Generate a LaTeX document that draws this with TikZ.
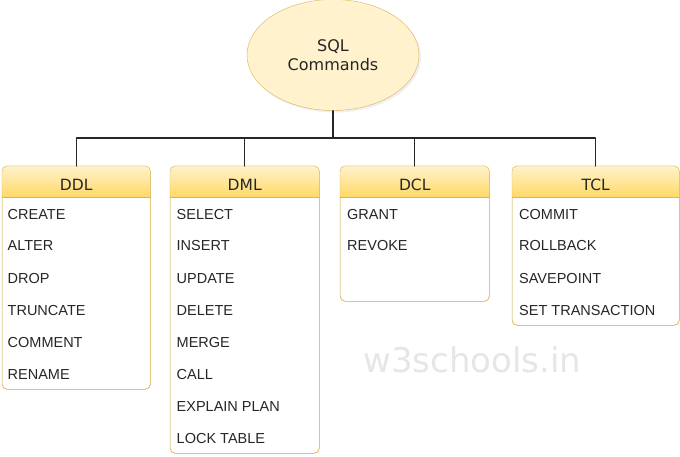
\documentclass[tikz,border=0pt]{standalone}
\usepackage{fontspec}
\setmainfont{Liberation Sans}
\newfontfamily\headfont{DejaVu Sans}
\usetikzlibrary{positioning, shapes.geometric, shadows}
\definecolor{paleyellow}{HTML}{FFF2CC}
\definecolor{deepyellow}{HTML}{FFD966}
\definecolor{goldline}{HTML}{D6B656}
\definecolor{inkgray}{HTML}{262626}
\definecolor{markgray}{HTML}{E6E6E6}
\begin{document}
\begin{tikzpicture}[x=1pt, y=-1pt, line cap=round, line join=round,
  root/.style={ellipse, draw=goldline, fill=paleyellow, minimum width=172pt,
    minimum height=111pt, inner sep=0pt, align=center, text=inkgray,
    font=\headfont\fontsize{16}{19}\selectfont,
    drop shadow={opacity=0.12, shadow xshift=2pt, shadow yshift=-2pt}},
  group/.style={draw=goldline, fill=white, rounded corners=5pt, anchor=north west,
    inner sep=0pt, minimum width=#1},
  title/.style={anchor=base, text=inkgray, font=\headfont\fontsize{15.5}{18}\selectfont},
  entry/.style={anchor=base west, inner sep=0pt, text=inkgray, font=\fontsize{14.5}{17}\selectfont},
  link/.style={draw=inkgray, line width=1.2pt},
  watermark/.style={anchor=base west, inner sep=0pt, text=markgray,
    font=\headfont\fontsize{34}{40}\selectfont}]
\fill [white] (0,0) rectangle (680,457);
\useasboundingbox (0,0) rectangle (680,457);

\node [watermark] (wm) at (363,372) {w3schools.in};

\node [root] (sql) at (333,55) {SQL\\Commands};

\node [group=148pt, minimum height=223pt] (ddl) at (2,166) {};
\node [group=149pt, minimum height=287pt] (dml) at (170,166) {};
\node [group=149pt, minimum height=135pt] (dcl) at (340,166) {};
\node [group=167pt, minimum height=159pt] (tcl) at (512,166) {};

\foreach \b in {ddl,dml,dcl,tcl} {
  \begin{scope}
    \clip [rounded corners=5pt] (\b.north west) rectangle (\b.south east);
    \shade [top color=paleyellow, bottom color=deepyellow]
      (\b.north west) rectangle ([yshift=-31pt]\b.north east);
  \end{scope}
  \draw [goldline] ([yshift=-31pt]\b.north west) -- ([yshift=-31pt]\b.north east);
  \draw [goldline, rounded corners=5pt] (\b.north west) rectangle (\b.south east);
}

\node [title] (ddl-title) at ([yshift=-25pt]ddl.north) {DDL};
\node [title] (dml-title) at ([yshift=-25pt]dml.north) {DML};
\node [title] (dcl-title) at ([yshift=-25pt]dcl.north) {DCL};
\node [title] (tcl-title) at ([yshift=-25pt]tcl.north) {TCL};

\foreach \t [count=\i] in {CREATE,ALTER,DROP,TRUNCATE,COMMENT,RENAME}
  \node [entry] (ddl-\i) at ([xshift=5.5pt, yshift={-53pt-(\i-1)*32pt}]ddl.north west) {\t};
\foreach \t [count=\i] in {SELECT,INSERT,UPDATE,DELETE,MERGE,CALL,EXPLAIN PLAN,LOCK TABLE}
  \node [entry] (dml-\i) at ([xshift=6.5pt, yshift={-53pt-(\i-1)*32pt}]dml.north west) {\t};
\foreach \t [count=\i] in {GRANT,REVOKE}
  \node [entry] (dcl-\i) at ([xshift=7pt, yshift={-53pt-(\i-1)*32pt}]dcl.north west) {\t};
\foreach \t [count=\i] in {COMMIT,ROLLBACK,SAVEPOINT,SET TRANSACTION}
  \node [entry] (tcl-\i) at ([xshift=7pt, yshift={-53pt-(\i-1)*32pt}]tcl.north west) {\t};

\coordinate (bus) at (333,138);
\draw [link] (sql) -- (bus);
\foreach \b in {ddl,dml,dcl,tcl}
  \draw [link] (\b.north) |- (bus);

\end{tikzpicture}
\end{document}
